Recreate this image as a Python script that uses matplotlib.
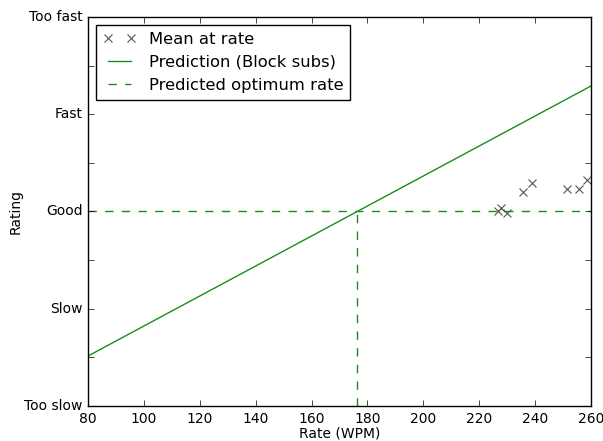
import matplotlib
matplotlib.use("Agg")
import matplotlib.pyplot as plt

plt.style.use('classic')

# Data
rate_wpm = [226.8, 227.7, 229.9, 235.8, 239.0, 251.3, 255.7, 258.5]
mean_rating = [3.008, 3.033, 2.988, 3.197, 3.296, 3.228, 3.234, 3.324]
pred_x = [80, 260]
pred_y = [1.514, 4.29]
optimum_rate = 176.3
optimum_rating = 3.0
ytick_vals = [1, 1.5, 2, 2.5, 3, 3.5, 4, 4.5, 5]
ytick_labels = ['Too slow', '', 'Slow', '', 'Good', '', 'Fast', '', 'Too fast']
xtick_vals = [80, 100, 120, 140, 160, 180, 200, 220, 240, 260]

fig = plt.figure(figsize=(6.03, 4.41), dpi=100, facecolor='white')
ax = fig.add_axes([0.146, 0.0794, 0.834, 0.8821])

ax.plot(rate_wpm, mean_rating, 'x', color='#555555', markersize=6, mew=0.8,
        label='Mean at rate')
ax.plot(pred_x, pred_y, '-', color='#1a8c1a', lw=1, label='Prediction (Block subs)')
ax.plot([pred_x[0], pred_x[1]], [optimum_rating, optimum_rating], '--', color='#1a8c1a',
        lw=1, label='Predicted optimum rate')
ax.plot([optimum_rate, optimum_rate], [1, optimum_rating], '--', color='#1a8c1a', lw=1)

ax.set_xlim(80, 260)
ax.set_ylim(1, 5)
ax.set_xticks(xtick_vals)
ax.set_yticks(ytick_vals)
ax.set_yticklabels(ytick_labels)
ax.tick_params(labelsize=10)
ax.set_xlabel('Rate (WPM)', fontsize=10, labelpad=1)
ax.set_ylabel('Rating', fontsize=10, labelpad=1)

leg = ax.legend(loc='upper left', fontsize=11.8, numpoints=2)

fig.savefig('out.png', dpi=100, facecolor='white')
